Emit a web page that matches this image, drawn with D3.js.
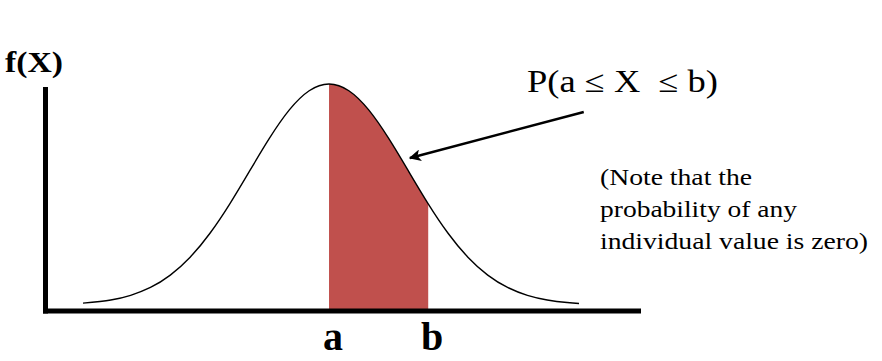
<!DOCTYPE html>
<html>
<head>
<meta charset="utf-8">
<script src="https://cdn.jsdelivr.net/npm/d3@7"></script>
<style>
  html, body { margin: 0; padding: 0; background: #fff; }
  svg { display: block; }
</style>
</head>
<body>
<div id="chart"></div>
<script>
"use strict";

// z positions along the x axis and the density
let zValues = [-3.1, -2.75, -2.5, -2.25, -2, -1.75, -1.5, -1.25, -1, -0.75, -0.5, -0.25,
  0, 0.25, 0.5, 0.75, 1, 1.25, 1.5, 1.75, 2, 2.25, 2.5, 2.75, 3, 3.15];
let densities = [0.0033, 0.0091, 0.0175, 0.0317, 0.054, 0.0863, 0.1295, 0.1826, 0.242, 0.3011, 0.3521, 0.3867,
  0.3989, 0.3867, 0.3521, 0.3011, 0.242, 0.1826, 0.1295, 0.0863, 0.054, 0.0317, 0.0175, 0.0091, 0.0044, 0.0028];

// shaded interval [a, b]
let boundValues = [0, 1.25];
let boundLabels = ["a", "b"];

let yLabel = "f(X)";
let probLabel = "P(a \u2264 X  \u2264 b)";
let noteLines = ["(Note that the", "probability of any", "individual value is zero)"];

// arrow from label towards the shaded area, in data units [z, density]
let arrowFrom = [3.21, 0.3484];
let arrowTo = [1.02, 0.2653];

let width = 882,
  height = 361;

let axisY = 311,
  axisX = 45.5;

let serif = "'Liberation Serif', 'Times New Roman', Times, serif";

let svg = d3.select("#chart")
  .append("svg")
  .attr("width", width)
  .attr("height", height)
  .attr("viewBox", [0, 0, width, height].join(" "))
  .attr("font-family", serif);

let xScale = d3.scaleLinear()
  .domain([-3.1, 3.15])
  .range([83, 579]);

let yScale = d3.scaleLinear()
  .domain([0, 0.3989])
  .range([305, 84]);

let points = zValues.map((z, i) => ({ z: z, d: densities[i] }));

let defs = svg.append("defs");

defs.append("clipPath")
  .attr("id", "between")
  .append("rect")
  .attr("x", xScale(boundValues[0]))
  .attr("y", 0)
  .attr("width", xScale(boundValues[1]) - xScale(boundValues[0]))
  .attr("height", height);

defs.append("marker")
  .attr("id", "arrowHead")
  .attr("viewBox", "0 0 10 10")
  .attr("refX", 9)
  .attr("refY", 5)
  .attr("markerUnits", "userSpaceOnUse")
  .attr("markerWidth", 15)
  .attr("markerHeight", 12)
  .attr("orient", "auto")
  .append("path")
  .attr("d", "M0,0 L10,5 L0,10 L2.5,5 Z")
  .attr("fill", "#000");

// shaded probability
let area = d3.area()
  .x(d => xScale(d.z))
  .y0(axisY - 1)
  .y1(d => yScale(d.d))
  .curve(d3.curveNatural);

svg.append("path")
  .datum(points)
  .attr("clip-path", "url(#between)")
  .attr("d", area)
  .attr("fill", "#C0504D");

// density curve
let line = d3.line()
  .x(d => xScale(d.z))
  .y(d => yScale(d.d))
  .curve(d3.curveNatural);

svg.append("path")
  .datum(points)
  .attr("d", line)
  .attr("fill", "none")
  .attr("stroke", "#000")
  .attr("stroke-width", 1.4);

// axes: plain heavy lines
svg.append("line")
  .attr("x1", axisX)
  .attr("x2", axisX)
  .attr("y1", 87)
  .attr("y2", axisY + 2.5)
  .attr("stroke", "#000")
  .attr("stroke-width", 5);

svg.append("line")
  .attr("x1", axisX - 2.5)
  .attr("x2", 641)
  .attr("y1", axisY)
  .attr("y2", axisY)
  .attr("stroke", "#000")
  .attr("stroke-width", 5);

// a / b labels
svg.selectAll(".boundLabel")
  .data(boundValues)
  .enter().append("text")
  .attr("class", "boundLabel")
  .attr("x", d => xScale(d) + 4)
  .attr("y", 350)
  .attr("text-anchor", "middle")
  .attr("font-size", 40)
  .attr("font-weight", "bold")
  .text((d, i) => boundLabels[i]);

svg.append("text")
  .attr("x", 5)
  .attr("y", 72)
  .attr("textLength", 58)
  .attr("lengthAdjust", "spacingAndGlyphs")
  .attr("font-size", 30)
  .attr("font-weight", "bold")
  .text(yLabel);

svg.append("text")
  .attr("x", 527)
  .attr("y", 92)
  .attr("textLength", 191)
  .attr("lengthAdjust", "spacingAndGlyphs")
  .attr("font-size", 31)
  .style("white-space", "pre")
  .text(probLabel);

let noteLengths = [152, 197, 268];
svg.selectAll(".note")
  .data(noteLines)
  .enter().append("text")
  .attr("class", "note")
  .attr("x", 600)
  .attr("y", (d, i) => 185 + i * 32)
  .attr("textLength", (d, i) => noteLengths[i])
  .attr("lengthAdjust", "spacingAndGlyphs")
  .attr("font-size", 24)
  .text(d => d);

svg.append("line")
  .attr("x1", xScale(arrowFrom[0]))
  .attr("y1", yScale(arrowFrom[1]))
  .attr("x2", xScale(arrowTo[0]))
  .attr("y2", yScale(arrowTo[1]))
  .attr("stroke", "#000")
  .attr("stroke-width", 2.5)
  .attr("marker-end", "url(#arrowHead)");
</script>
</body>
</html>
